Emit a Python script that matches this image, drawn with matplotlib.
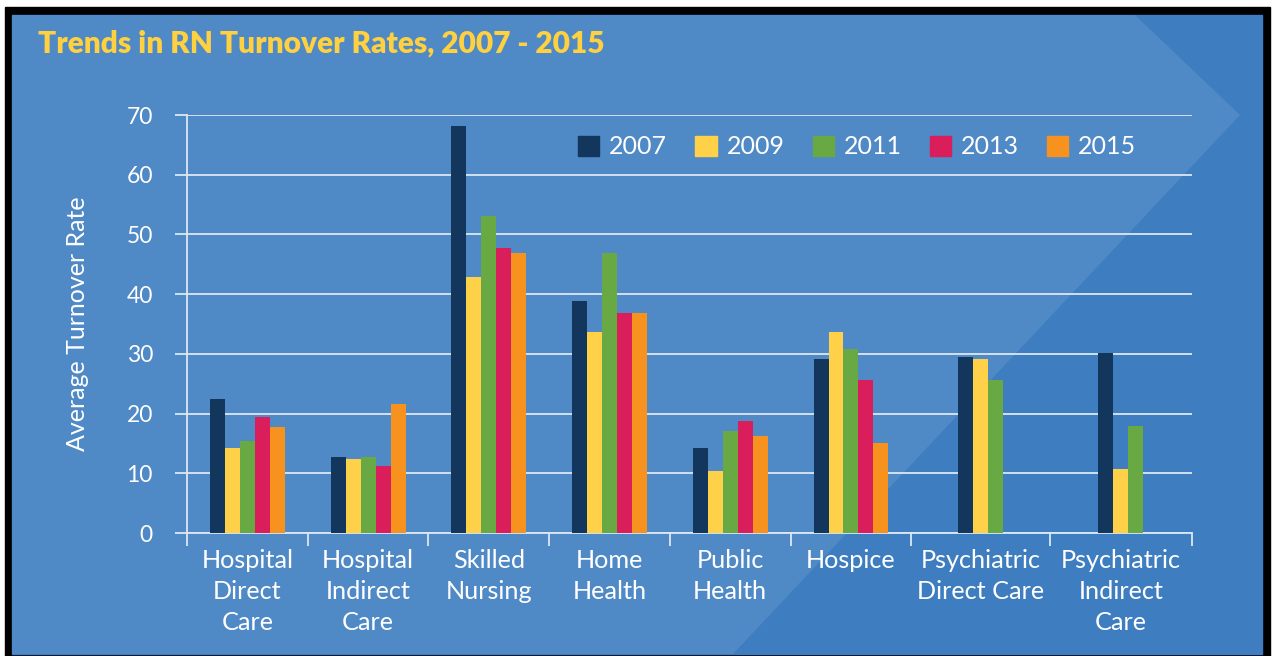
import numpy as np
import matplotlib
matplotlib.use("Agg")
import matplotlib.pyplot as plt
from matplotlib.patches import Rectangle, Polygon

# --- data -------------------------------------------------------------
categories = ["Hospital\nDirect\nCare", "Hospital\nIndirect\nCare", "Skilled\nNursing",
              "Home\nHealth", "Public\nHealth", "Hospice", "Psychiatric\nDirect Care",
              "Psychiatric\nIndirect\nCare"]
years = ["2007", "2009", "2011", "2013", "2015"]
rate_2007 = [22.5, 12.8, 68.2, 38.9, 14.2, 29.1, 29.5, 30.1]
rate_2009 = [14.2, 12.4, 42.8, 33.7, 10.3, 33.7, 29.1, 10.8]
rate_2011 = [15.4, 12.7, 53.1, 46.9, 17.1, 30.8, 25.6, 17.9]
rate_2013 = [19.4, 11.2, 47.8, 36.8, 18.8, 25.7, np.nan, np.nan]
rate_2015 = [17.8, 21.6, 46.9, 36.8, 16.2, 15.1, np.nan, np.nan]
yticks = [0, 10, 20, 30, 40, 50, 60, 70]

series = [rate_2007, rate_2009, rate_2011, rate_2013, rate_2015]
colors = ["#12365c", "#ffd148", "#68a943", "#da1d5b", "#f7921e"]

plt.rcParams["font.family"] = ["Lato", "DejaVu Sans"]

W, H = 1275, 656
fig = plt.figure(figsize=(W / 100, H / 100), dpi=100)

# background: frame, blue panel, lighter chevron
bg = fig.add_axes([0, 0, 1, 1])
bg.set_xlim(0, W)
bg.set_ylim(H, 0)
bg.axis("off")
bg.add_patch(Rectangle((5, 7), 1265, 660, color="black"))
bg.add_patch(Rectangle((12, 15), 1250, 639, color="#3e7ec0"))
bg.add_patch(Polygon([(12, 15), (1135, 15), (1240, 115), (733, 654), (12, 654)],
                     closed=True, color="#4f89c6", lw=0))

fig.text(38 / W, 1 - 44 / H, "Trends in RN Turnover Rates, 2007 - 2015",
         color="#ffd040", fontsize=21.5, fontweight="heavy", va="center", ha="left")

# main axes
ax = fig.add_axes([187 / W, 1 - 533 / H, (1192 - 187) / W, (533 - 115) / H])
ax.set_facecolor("none")

# category slots (last two labels get wider slots)
slot_w = np.array([1, 1, 1, 1, 1, 1, 1.145, 1.18])
edges = np.concatenate([[0], np.cumsum(slot_w)])
centers = (edges[:-1] + edges[1:]) / 2
bar_w = 0.124

vals = np.array(series, dtype=float)
for i, c in enumerate(centers):
    present = [k for k in range(len(series)) if not np.isnan(vals[k, i])]
    n = len(present)
    for j, k in enumerate(present):
        x = c + (j - (n - 1) / 2) * bar_w
        ax.bar(x, vals[k, i], width=bar_w, color=colors[k], zorder=3)

grid_c = "#dce8f4"
ax.set_xlim(0, edges[-1])
ax.set_ylim(0, 70)
ax.set_yticks(yticks)
ax.yaxis.grid(True, color=grid_c, linewidth=1.3, zorder=1)
ax.tick_params(axis="y", colors=grid_c, length=8.5, width=1.3, pad=16,
               labelcolor="white", labelsize=16.5)
for s in ["top", "right"]:
    ax.spines[s].set_visible(False)
ax.spines["left"].set_color(grid_c)
ax.spines["left"].set_linewidth(1.3)
ax.spines["bottom"].set_color(grid_c)
ax.spines["bottom"].set_linewidth(1.3)

ax.set_xticks(edges)
ax.set_xticklabels([])
ax.tick_params(axis="x", which="major", colors=grid_c, length=9, width=1.3)
ax.set_xticks(centers, minor=True)
ax.set_xticklabels(categories, minor=True, color="white", fontsize=18.2,
                   linespacing=1.42)
ax.tick_params(axis="x", which="minor", length=0, pad=11.5)

ax.set_ylabel("Average Turnover Rate", color="white", fontsize=18, labelpad=27)

handles = [Rectangle((0, 0), 1, 1, color=c) for c in colors]
leg = ax.legend(handles, years, ncol=5, loc="center left",
                bbox_to_anchor=(578 / W, 1 - 147 / H), bbox_transform=fig.transFigure,
                frameon=False, fontsize=18, handlelength=0.85, handleheight=0.85,
                handletextpad=0.4, columnspacing=1.12, borderpad=0, borderaxespad=0)
for t in leg.get_texts():
    t.set_color("white")

fig.savefig("out.png", dpi=100)
